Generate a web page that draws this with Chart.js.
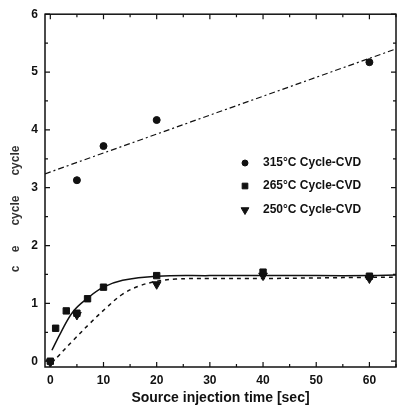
<!DOCTYPE html>
<html>
<head>
<meta charset="utf-8">
<script src="https://cdn.jsdelivr.net/npm/chart.js@4.4.0/dist/chart.umd.min.js"></script>
<style>
  html, body { margin: 0; padding: 0; background: #fff; }
  #wrap { width: 402px; height: 407px; }
</style>
</head>
<body>
<div id="wrap"><canvas id="chart"></canvas></div>
<script>
const seriesNames = ['315\u00B0C Cycle-CVD', '265\u00B0C Cycle-CVD', '250\u00B0C Cycle-CVD'];

const time315 = [5, 10, 20, 60];
const thick315 = [3.13, 3.72, 4.17, 5.17];
const time265 = [0, 1, 3, 5, 7, 10, 20, 40, 60];
const thick265 = [0, 0.57, 0.87, 0.83, 1.08, 1.28, 1.48, 1.54, 1.47];
const time250 = [0, 5, 20, 40, 60];
const thick250 = [-0.02, 0.80, 1.33, 1.48, 1.43];

// fitted lines
const fitTime315 = [-1, 65];
const fitVal315 = [3.24, 5.40];
const fitTime265 = [0.3, 2, 4.3, 7, 10, 13.6, 20, 30, 40, 50, 60, 65];
const fitVal265 = [0.19, 0.50, 0.86, 1.09, 1.28, 1.40, 1.47, 1.48, 1.48, 1.48, 1.48, 1.49];
const fitTime250 = [1.3, 4.3, 7.4, 10.6, 13.6, 16.7, 20, 23.6, 30, 40, 50, 60, 65];
const fitVal250 = [0.07, 0.36, 0.65, 0.93, 1.16, 1.30, 1.38, 1.42, 1.43, 1.43, 1.44, 1.45, 1.45];

const xTicks = [0, 10, 20, 30, 40, 50, 60];
const yTicks = [0, 1, 2, 3, 4, 5, 6];

const ink = '#111';
const pts = (xs, ys) => xs.map((x, i) => ({x: x, y: ys[i]}));

const framePlugin = {
  id: 'frame',
  afterDatasetsDraw(chart) {
    const {ctx, chartArea: a, scales: {x, y}} = chart;
    ctx.save();
    ctx.strokeStyle = ink;
    ctx.lineWidth = 1.5;
    ctx.strokeRect(a.left, a.top, a.right - a.left, a.bottom - a.top);
    ctx.lineWidth = 1.2;
    ctx.beginPath();
    for (let v = 0; v <= 65; v += 5) {
      const px = x.getPixelForValue(v);
      const len = v % 10 === 0 ? 5 : 3;
      ctx.moveTo(px, a.bottom); ctx.lineTo(px, a.bottom - len);
      ctx.moveTo(px, a.top); ctx.lineTo(px, a.top + len);
    }
    for (let v = 0; v <= 6; v += 0.5) {
      const py = y.getPixelForValue(v);
      const len = Number.isInteger(v) ? 5 : 3;
      ctx.moveTo(a.left, py); ctx.lineTo(a.left + len, py);
      ctx.moveTo(a.right, py); ctx.lineTo(a.right - len, py);
    }
    ctx.stroke();
    ctx.restore();
  }
};

const legendPlugin = {
  id: 'insideLegend',
  afterDraw(chart) {
    const ctx = chart.ctx;
    ctx.save();
    ctx.font = 'bold 12px "Liberation Sans", Arial, sans-serif';
    ctx.textBaseline = 'middle';
    const rows = [163, 186, 210];
    [0, 1, 2].forEach(i => {
      const ds = chart.data.datasets[i];
      ctx.fillStyle = ink;
      ctx.strokeStyle = ink;
      Chart.helpers.drawPoint(ctx, {
        pointStyle: ds.pointStyle, radius: ds.pointRadius - 0.5, rotation: ds.pointRotation || 0, borderWidth: 1
      }, 245, rows[i]);
      ctx.fillText(ds.label, 263, rows[i]);
    });
    ctx.restore();
  }
};

new Chart(document.getElementById('chart'), {
  type: 'scatter',
  data: {
    datasets: [
      {label: seriesNames[0], data: pts(time315, thick315), pointStyle: 'circle', pointRadius: 3.5,
       backgroundColor: ink, borderColor: ink, showLine: false},
      {label: seriesNames[1], data: pts(time265, thick265), pointStyle: 'rect', pointRadius: 4.5,
       backgroundColor: ink, borderColor: ink, showLine: false},
      {label: seriesNames[2], data: pts(time250, thick250), pointStyle: 'triangle', pointRadius: 5, pointRotation: 180,
       backgroundColor: ink, borderColor: ink, showLine: false},
      {label: 'fit 315', data: pts(fitTime315, fitVal315), showLine: true, pointRadius: 0,
       borderColor: ink, borderWidth: 1.2, borderDash: [6, 3, 2, 3]},
      {label: 'fit 265', data: pts(fitTime265, fitVal265), showLine: true, pointRadius: 0,
       borderColor: ink, borderWidth: 1.5, tension: 0.4},
      {label: 'fit 250', data: pts(fitTime250, fitVal250), showLine: true, pointRadius: 0,
       borderColor: ink, borderWidth: 1.5, borderDash: [4, 4], tension: 0.4}
    ]
  },
  options: {
    responsive: true,
    maintainAspectRatio: false,
    animation: false,
    layout: {padding: {left: 0, right: 2, top: 14, bottom: 0}},
    plugins: {legend: {display: false}, tooltip: {enabled: false}},
    scales: {
      x: {
        type: 'linear', min: -1, max: 65,
        afterBuildTicks: s => { s.ticks = xTicks.map(v => ({value: v})); },
        afterFit: s => { s.height = 40; },
        grid: {display: false, drawTicks: false},
        border: {display: false},
        ticks: {color: ink, padding: 6, font: {family: '"Liberation Sans", Arial', size: 12, weight: 'bold'}},
        title: {display: true, text: 'Source injection time [sec]', color: ink, padding: {top: 2, bottom: 0},
                font: {family: '"Liberation Sans", Arial', size: 14, weight: 'bold'}}
      },
      y: {
        type: 'linear', min: -0.1, max: 6,
        afterBuildTicks: s => { s.ticks = yTicks.map(v => ({value: v})); },
        afterFit: s => { s.width = 45; },
        grid: {display: false, drawTicks: false},
        border: {display: false},
        ticks: {color: ink, padding: 7, font: {family: '"Liberation Sans", Arial', size: 12, weight: 'bold'}},
        title: {display: true, text: 'c    e      cycle      cycle           ', color: '#333', padding: {top: 8, bottom: 0},
                font: {family: '"Liberation Sans", Arial', size: 12, weight: 'bold'}}
      }
    }
  },
  plugins: [framePlugin, legendPlugin]
});
</script>
</body>
</html>
